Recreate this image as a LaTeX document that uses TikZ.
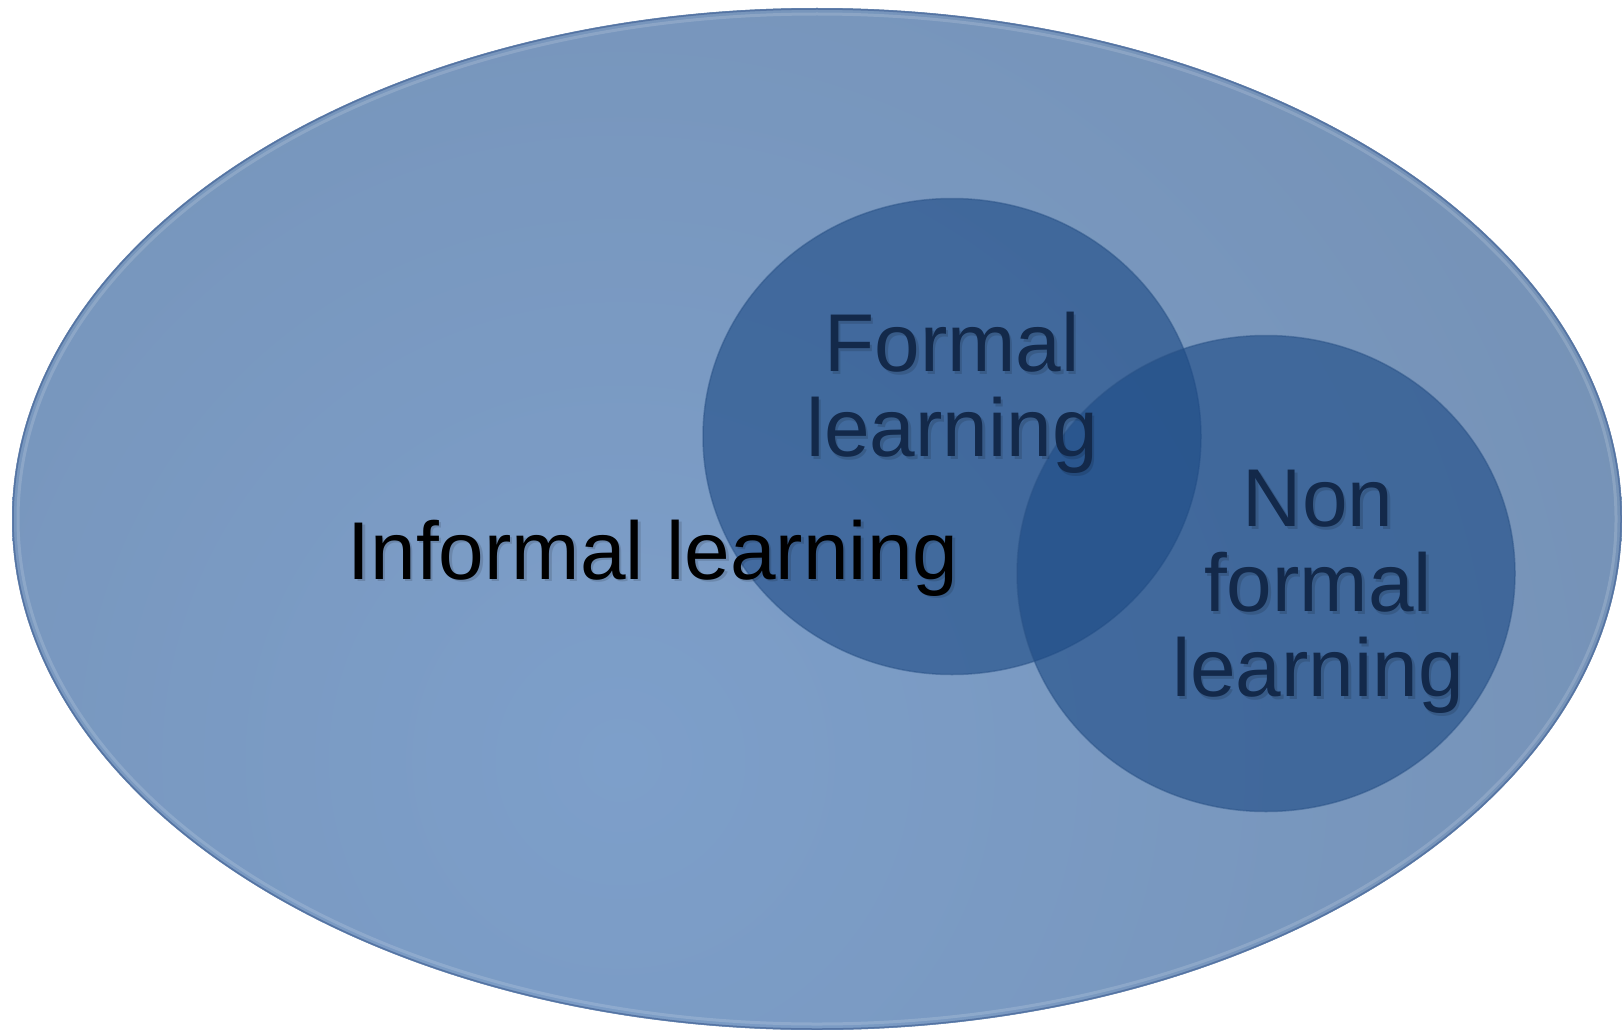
\documentclass[tikz,border=0pt]{standalone}
\usepackage{fontspec}
\usetikzlibrary{shapes.geometric}
\setmainfont{Liberation Sans}
\definecolor{bgdark}{HTML}{6F87A6}
\definecolor{bglight}{HTML}{7D9FCA}
\definecolor{rimcol}{HTML}{5574A3}
\definecolor{setfill}{HTML}{1C4A85}
\definecolor{setrim}{HTML}{2C5488}
\definecolor{navytext}{HTML}{13294A}
\tikzset{
  biglabel/.style={inner sep=0pt, font=\fontsize{82}{85}\selectfont, align=center},
  setcircle/.style={ellipse, minimum width=498pt, minimum height=476pt, inner sep=0pt,
    fill=setfill, fill opacity=0.6, draw=setrim, draw opacity=0.5, line width=1.5pt},
  shadowtext/.style={text=black, text opacity=0.13}
}
\begin{document}
\begin{tikzpicture}[x=1pt,y=-1pt]
\useasboundingbox (0,0) rectangle (1622,1030);
% outer ellipse
\begin{scope}
  \clip (817,519) ellipse [x radius=805, y radius=511];
  \fill[bgdark] (0,0) rectangle (1622,1030);
  \shade[inner color=bglight, outer color=bgdark] (620,760) circle (2000);
\end{scope}
\draw[rimcol, line width=1.5pt] (817,519) ellipse [x radius=804, y radius=510];
\draw[white, opacity=0.15, line width=3pt] (817,519) ellipse [x radius=799, y radius=505];
% circles
\node[setcircle] (formal) at (952,436.5) {};
\node[setcircle] (nonformal) at (1266,573.5) {};
% labels (soft shadows)
\node[biglabel, shadowtext, anchor=base] at (655.5,581.5) {Informal learning};
\node[biglabel, shadowtext, anchor=north] at (954.5,314.5) {Formal\\learning};
\node[biglabel, shadowtext, anchor=north] at (1320.5,472.5) {Non\\formal\\learning};
% labels
\node[biglabel, text=black, anchor=base] (informaltext) at (653,579) {Informal learning};
\node[biglabel, text=navytext, anchor=north] (formaltext) at (952,312) {Formal\\learning};
\node[biglabel, text=navytext, anchor=north] (nonformaltext) at (1318,470) {Non\\formal\\learning};
\end{tikzpicture}
\end{document}
